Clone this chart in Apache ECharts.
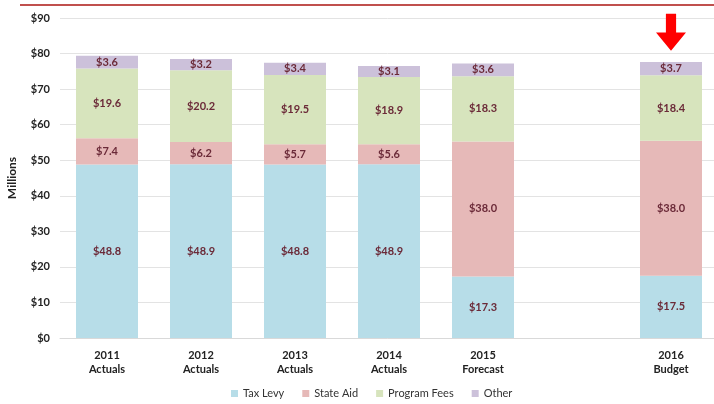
<!DOCTYPE html>
<html>
<head>
<meta charset="utf-8">
<script src="https://cdn.jsdelivr.net/npm/echarts@6/dist/echarts.min.js"></script>
<style>
  html, body { margin: 0; padding: 0; background: #fff; }
  #chart { width: 714px; height: 404px; }
</style>
</head>
<body>
<div id="chart"></div>
<script>
// categories (an empty slot sits between 2015 and 2016)
const categories = ["2011\nActuals", "2012\nActuals", "2013\nActuals", "2014\nActuals", "2015\nForecast", "", "2016\nBudget"];
const taxLevy = [48.8, 48.9, 48.8, 48.9, 17.3, "-", 17.5];
const stateAid = [7.4, 6.2, 5.7, 5.6, 38.0, "-", 38.0];
const programFees = [19.6, 20.2, 19.5, 18.9, 18.3, "-", 18.4];
const other = [3.6, 3.2, 3.4, 3.1, 3.6, "-", 3.7];
const yTicks = [0, 10, 20, 30, 40, 50, 60, 70, 80, 90];

const chart = echarts.init(document.getElementById("chart"));
const font = "Lato, 'Open Sans', sans-serif";

// 数据标签样式
const label = {
  show: true,
  position: "inside",
  fontFamily: font,
  fontWeight: "bold",
  fontSize: 11,
  color: "#6b2a38",
  formatter: (p) => "$" + Number(p.value).toFixed(1),
};

function bar(name, data, color) {
  return {
    name: name,
    type: "bar",
    stack: "total",
    data: data,
    barWidth: 62,
    itemStyle: { color: color },
    label: label,
  };
}

const series = [
  bar("Tax Levy", taxLevy, "#b7dde8"),
  bar("State Aid", stateAid, "#e6b9b8"),
  bar("Program Fees", programFees, "#d7e4bd"),
  bar("Other", other, "#ccc1da"),
];
// red arrow above the budget bar
series[3].markPoint = {
  symbol: "path://M3.3,0 L6.7,0 L6.7,5.6 L10,5.6 L5,11 L0,5.6 L3.3,5.6 Z",
  symbolSize: [30, 37],
  itemStyle: { color: "#ff0000" },
  label: { show: false },
  data: [{ coord: ["2016\nBudget", 86] }],
};

chart.setOption({
  animation: false,
  textStyle: { fontFamily: font },
  grid: { left: 60, top: 18, width: 658, bottom: 66, outerBoundsMode: "none", containLabel: false },
  xAxis: {
    type: "category",
    data: categories,
    axisTick: { show: false },
    axisLine: { lineStyle: { color: "#d9d9d9" } },
    axisLabel: {
      color: "#222",
      fontWeight: "bold",
      fontSize: 11,
      lineHeight: 14,
      margin: 10,
      interval: 0,
    },
  },
  yAxis: {
    type: "value",
    min: yTicks[0],
    max: yTicks[yTicks.length - 1],
    interval: 10,
    name: "Millions",
    nameLocation: "middle",
    nameGap: 42,
    nameMoveOverlap: false,
    nameTextStyle: { fontWeight: "bold", fontSize: 12, color: "#222" },
    axisLabel: {
      color: "#222",
      fontWeight: "bold",
      fontSize: 11,
      margin: 10,
      formatter: (v) => "$" + v,
    },
    splitLine: { lineStyle: { color: "#e3e3e3" } },
  },
  legend: {
    bottom: 0,
    left: 226,
    itemWidth: 7,
    itemHeight: 7,
    itemGap: 18,
    icon: "rect",
    textStyle: { fontSize: 11, color: "#333" },
    data: ["Tax Levy", "State Aid", "Program Fees", "Other"],
  },
  graphic: [
    {
      type: "line",
      shape: { x1: 20, y1: 5, x2: 714, y2: 5 },
      style: { stroke: "#c0504d", lineWidth: 2 },
    },
  ],
  series: series,
});
</script>
</body>
</html>
